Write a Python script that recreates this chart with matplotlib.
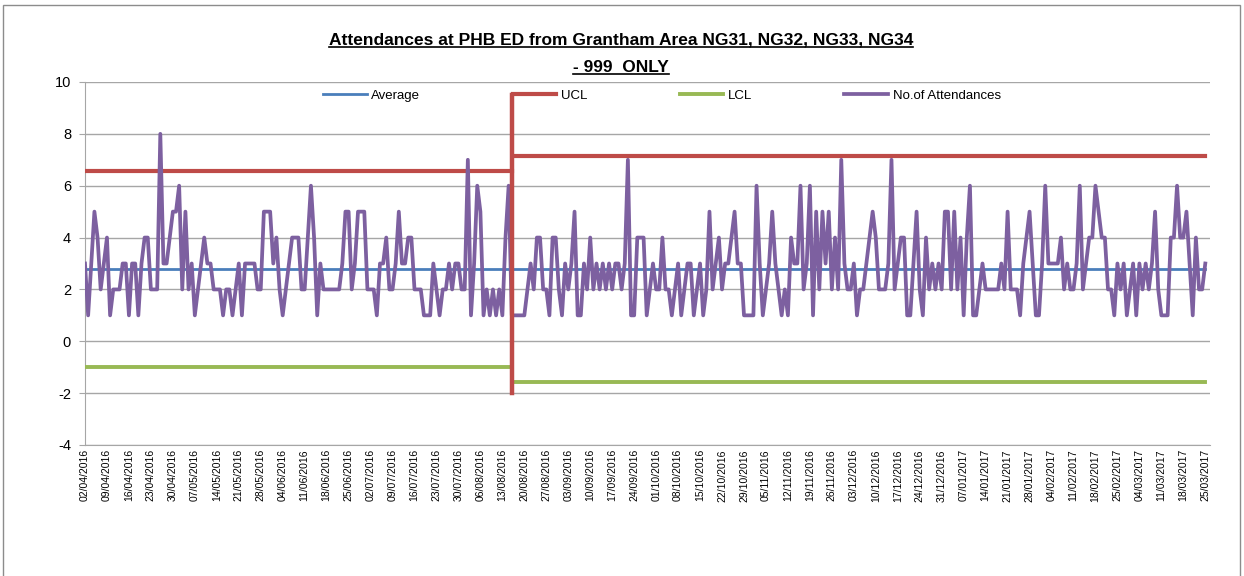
import matplotlib
matplotlib.use("Agg")
import matplotlib.pyplot as plt
import numpy as np
import pandas as pd
from matplotlib.patches import Rectangle
from matplotlib.lines import Line2D

plt.rcParams['font.family'] = ['Liberation Sans', 'DejaVu Sans']
plt.rcParams['axes.unicode_minus'] = False

# daily dates 02/04/2016 .. 25/03/2017
dates = pd.date_range('2016-04-02', '2017-03-25', freq='D')
date_labels = [d.strftime('%d/%m/%Y') for d in dates]

# no. of attendances per day
attendances = [
    3, 1, 3, 5, 4, 2, 3, 4, 1, 2, 2, 2, 3, 3, 1, 3, 3, 1, 3, 4, 4, 2, 2, 2, 8, 3, 3, 4, 5,
    5, 6, 2, 5, 2, 3, 1, 2, 3, 4, 3, 3, 2, 2, 2, 1, 2, 2, 1, 2, 3, 1, 3, 3, 3, 3, 2, 2, 5, 5,
    5, 3, 4, 2, 1, 2, 3, 4, 4, 4, 2, 2, 4, 6, 4, 1, 3, 2, 2, 2, 2, 2, 2, 3, 5, 5, 2, 3, 5, 5,
    5, 2, 2, 2, 1, 3, 3, 4, 2, 2, 3, 5, 3, 3, 4, 4, 2, 2, 2, 1, 1, 1, 3, 2, 1, 2, 2, 3, 2, 3,
    3, 2, 2, 7, 1, 3, 6, 5, 1, 2, 1, 2, 1, 2, 1, 4, 6, 1, 1, 1, 1, 1, 2, 3, 2, 4, 4, 2, 2, 1,
    4, 4, 2, 1, 3, 2, 3, 5, 1, 1, 3, 2, 4, 2, 3, 2, 3, 2, 3, 2, 3, 3, 2, 3, 7, 1, 1, 4, 4, 4,
    1, 2, 3, 2, 2, 4, 2, 2, 1, 2, 3, 1, 2, 3, 3, 1, 2, 3, 1, 2, 5, 2, 3, 4, 2, 3, 3, 4, 5, 3,
    3, 1, 1, 1, 1, 6, 3, 1, 2, 3, 5, 3, 2, 1, 2, 1, 4, 3, 3, 6, 2, 3, 6, 1, 5, 2, 5, 3, 5, 2,
    4, 2, 7, 3, 2, 2, 3, 1, 2, 2, 3, 4, 5, 4, 2, 2, 2, 3, 7, 2, 3, 4, 4, 1, 1, 3, 5, 2, 1, 4,
    2, 3, 2, 3, 2, 5, 5, 2, 5, 2, 4, 1, 4, 6, 1, 1, 2, 3, 2, 2, 2, 2, 2, 3, 2, 5, 2, 2, 2, 1,
    3, 4, 5, 3, 1, 1, 3, 6, 3, 3, 3, 3, 4, 2, 3, 2, 2, 3, 6, 2, 3, 4, 4, 6, 5, 4, 4, 2, 2, 1,
    3, 2, 3, 1, 2, 3, 1, 3, 2, 3, 2, 3, 5, 2, 1, 1, 1, 4, 4, 6, 4, 4, 5, 3, 1, 4, 2, 2, 3,
]

# control limits, two phases
split_index = 136
average_value = 2.8
ucl_values = [6.55, 7.13]
lcl_values = [-0.98, -1.58]
split_line = [-2, 9.5]

n = len(dates)
x = np.arange(n)
average = np.full(n, average_value)
ucl = np.where(x <= split_index, ucl_values[0], ucl_values[1])
lcl = np.where(x <= split_index, lcl_values[0], lcl_values[1])

W, H = 1244, 576
fig = plt.figure(figsize=(W / 100, H / 100), dpi=100)
ax = fig.add_axes([85 / W, 1 - 445 / H, (1210 - 85) / W, (445 - 82) / H])

c_avg = '#4A7EBB'
c_ucl = '#BE4B48'
c_lcl = '#98B954'
c_att = '#7D60A0'

ax.plot(x, average, color=c_avg, lw=2.0, label='Average', zorder=3)
ax.plot(x[x <= split_index], ucl[x <= split_index], color=c_ucl, lw=3.0, label='UCL', zorder=3)
ax.plot(x[x > split_index], ucl[x > split_index], color=c_ucl, lw=3.0, zorder=3)
ax.plot(x[x <= split_index], lcl[x <= split_index], color=c_lcl, lw=2.8, label='LCL', zorder=3)
ax.plot(x[x > split_index], lcl[x > split_index], color=c_lcl, lw=2.8, zorder=3)
ax.plot(x, attendances, color=c_att, lw=2.7, label='No.of Attendances', zorder=4)
ax.plot([split_index, split_index], split_line, color=c_ucl, lw=3.2, zorder=5)

ax.set_xlim(0, n - 1 + 1.5)
ax.set_ylim(-4, 10)
ax.set_yticks(np.arange(-4, 11, 2))
ax.grid(axis='y', color='#A6A6A6', lw=1)
ax.set_axisbelow(True)
for s in ['top', 'right']:
    ax.spines[s].set_visible(False)
for s in ['left', 'bottom']:
    ax.spines[s].set_color('#A6A6A6')
ax.tick_params(axis='y', length=4, color='#A6A6A6', labelsize=10.5, pad=6)

tick_pos = x[::7]
ax.set_xticks(tick_pos)
ax.set_xticklabels([date_labels[i] for i in tick_pos], rotation=90, fontsize=7.5)
ax.tick_params(axis='x', length=0, pad=3)

leg = fig.legend(loc='center', bbox_to_anchor=(662 / W, 1 - 96 / H), ncol=4,
                 frameon=False, fontsize=9.5, handlelength=3.3, columnspacing=7.0,
                 handletextpad=0.35, borderaxespad=0)

t1 = fig.text(621 / W, 1 - 40 / H, 'Attendances at PHB ED from Grantham Area NG31, NG32, NG33, NG34',
              ha='center', va='center', fontsize=12.5, fontweight='bold')
t2 = fig.text(621 / W, 1 - 67 / H, '- 999  ONLY', ha='center', va='center',
              fontsize=12.5, fontweight='bold')

# underline the title lines
fig.canvas.draw()
r = fig.canvas.get_renderer()
for t in (t1, t2):
    bb = t.get_window_extent(r)
    yl = bb.y0 + 1
    fig.add_artist(Line2D([bb.x0 / W, bb.x1 / W], [yl / H, yl / H], color='black', lw=1.2))

# chart border
fig.add_artist(Rectangle((3 / W, -0.05), (1240 - 3) / W, 1.05 - 5 / H, fill=False,
                         edgecolor='#8C8C8C', lw=1))

fig.savefig('out.png', dpi=100)
